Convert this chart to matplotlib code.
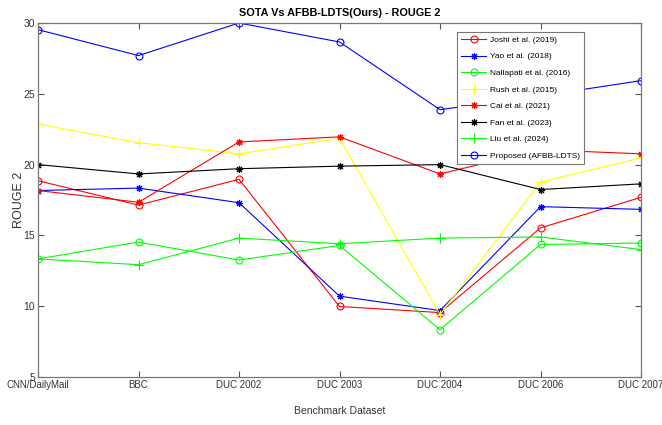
import matplotlib
matplotlib.use("Agg")
import matplotlib.pyplot as plt

NARROW = ['Liberation Sans', 'DejaVu Sans']
REG = ['Liberation Sans', 'DejaVu Sans']

datasets = ["CNN/DailyMail", "BBC", "DUC 2002", "DUC 2003", "DUC 2004", "DUC 2006", "DUC 2007"]

joshi = [18.86, 17.14, 18.96, 9.98, 9.55, 15.53, 17.69]
yao = [18.17, 18.34, 17.31, 10.71, 9.69, 17.03, 16.84]
nallapati = [13.34, 14.53, 13.26, 14.29, 8.34, 14.36, 14.46]
rush = [22.86, 21.55, 20.76, 21.86, 9.41, 18.76, 20.48]
cai = [18.17, 17.34, 21.60, 21.96, 19.34, 21.05, 20.76]
fan = [20.00, 19.34, 19.71, 19.89, 20.00, 18.24, 18.64]
liu = [13.34, 12.93, 14.81, 14.41, 14.81, 14.89, 14.00]
proposed = [29.53, 27.70, 30.00, 28.66, 23.88, 24.85, 25.93]

series = [
    ("Joshi et al. (2019)", joshi, "#ff0000", "o"),
    ("Yao et al. (2018)", yao, "#0000ff", "*"),
    ("Nallapati et al. (2016)", nallapati, "#00ff00", "o"),
    ("Rush et al. (2015)", rush, "#ffff00", "+"),
    ("Cai et al. (2021)", cai, "#ff0000", "*"),
    ("Fan et al. (2023)", fan, "#000000", "*"),
    ("Liu et al. (2024)", liu, "#00ff00", "+"),
    ("Proposed (AFBB-LDTS)", proposed, "#0000ff", "o"),
]

fig = plt.figure(figsize=(6.62, 4.25), dpi=100)
ax = fig.add_axes([38/662, 1-377/425, (641-38)/662, (377-23)/425])

x = list(range(len(datasets)))
for label, vals, col, mk in series:
    kw = dict(color=col, linewidth=0.8, label=label)
    if mk == "o":
        kw.update(marker="o", markersize=5, markerfacecolor="none", markeredgewidth=0.8)
    elif mk == "*":
        kw.update(marker=(8, 2, 0), markersize=5, markeredgewidth=0.8)
    else:
        kw.update(marker="+", markersize=6.5, markeredgewidth=0.8)
    ax.plot(x, vals, **kw)

ax.set_xlim(0, len(datasets)-1)
ax.set_ylim(5, 30)
ax.set_xticks(x)
ax.set_xticklabels(datasets, family=NARROW, fontsize=7, color="#333333")
ax.set_yticks([5, 10, 15, 20, 25, 30])
ax.set_yticklabels(["5", "10", "15", "20", "25", "30"], family=NARROW, fontsize=7.5, color="#333333")
ax.tick_params(direction="in", length=4, width=0.8, color="#555555", top=True, right=True, pad=2)
for s in ax.spines.values():
    s.set_color("#777777")
    s.set_linewidth(0.9)

ax.set_title("SOTA Vs AFBB-LDTS(Ours) - ROUGE 2", family=NARROW, fontsize=7.8, fontweight="bold", pad=5)
ax.set_xlabel("Benchmark Dataset", family=NARROW, fontsize=7.5, color="#333333", labelpad=12)
ax.set_ylabel("ROUGE 2", family=REG, fontsize=9, color="#333333")
ax.yaxis.set_label_coords(-0.022, 0.5)

leg = ax.legend(loc="upper left", bbox_to_anchor=(0.695, 0.975), prop={'family': NARROW, 'size': 6},
                fancybox=False, framealpha=1, edgecolor="#777777", handlelength=3.0,
                labelspacing=1.05, borderpad=0.5, handletextpad=0.4, borderaxespad=0)
leg.get_frame().set_linewidth(0.8)

fig.savefig("out.png", dpi=100)
